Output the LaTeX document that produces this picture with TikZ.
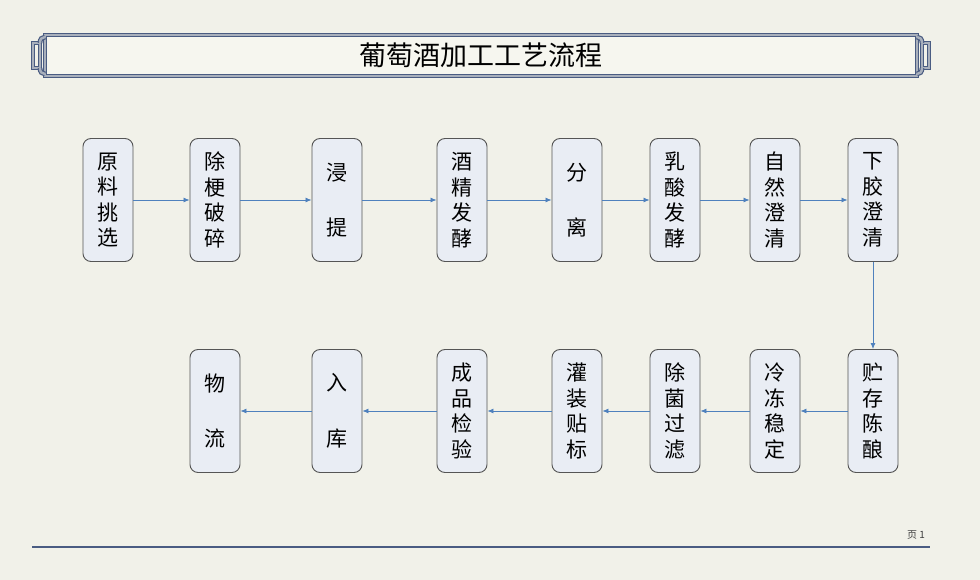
\documentclass[tikz,border=0pt]{standalone}
\usepackage{fontspec}
\setmainfont{Liberation Serif}
\newfontfamily\cjk{Noto Sans CJK SC}
\usetikzlibrary{arrows.meta}

\definecolor{bgcol}{HTML}{F1F1E9}
\definecolor{bannerfill}{HTML}{F6F6EF}
\definecolor{boxfill}{HTML}{E9EDF4}
\definecolor{boxline}{HTML}{555555}
\definecolor{arrowblue}{HTML}{4F81BD}
\definecolor{frameblue}{HTML}{4A5C82}
\definecolor{framegray}{HTML}{A9B0BC}

\begin{document}
\begin{tikzpicture}[x=1pt, y=-1pt,
  proc/.style={draw=boxline, line width=0.9pt, fill=boxfill, rounded corners=8pt, minimum width=50pt,
    minimum height=123pt, inner sep=0pt, align=center,
    font=\cjk\fontsize{21}{25.5}\selectfont},
  flow/.style={draw=arrowblue, line width=0.8pt, -{Latex[length=6pt,width=5pt]}},
  frame/.style={draw=frameblue, double=framegray, double distance=2.4pt, line width=1.2pt}]

  % page
  \fill[bgcol] (0,0) rectangle (980,580);
  \useasboundingbox (0,0) rectangle (980,580);

  % title banner
  \fill[bannerfill] (45,35) rectangle (917,76);
  \draw[frame] (45,35) rectangle (917,76);
  \draw[frame] (33,43) rectangle (40,68);
  \draw[frame] (45,37) .. controls (42,37) and (40,39) .. (40,43);
  \draw[frame] (45,74) .. controls (42,74) and (40,72) .. (40,68);
  \draw[frame] (922,43) rectangle (929,68);
  \draw[frame] (917,37) .. controls (920,37) and (922,39) .. (922,43);
  \draw[frame] (917,74) .. controls (920,74) and (922,72) .. (922,68);
  \node[font=\cjk\fontsize{27}{30}\selectfont] (title) at (481,55) {葡萄酒加工工艺流程};

  % first row
  \node[proc] (yuanliao) at (108,200) {原\\料\\挑\\选};
  \node[proc] (chugeng) at (215,200) {除\\梗\\破\\碎};
  \node[proc] (jinti) at (337,200) {浸\\[30pt]提};
  \node[proc] (jiujing) at (462,200) {酒\\精\\发\\酵};
  \node[proc] (fenli) at (577,200) {分\\[30pt]离};
  \node[proc] (rusuan) at (675,200) {乳\\酸\\发\\酵};
  \node[proc] (ziran) at (775,200) {自\\然\\澄\\清};
  \node[proc] (xiajiao) at (873,200) {下\\胶\\澄\\清};

  % second row
  \node[proc] (zhucun) at (873,411) {贮\\存\\陈\\酿};
  \node[proc] (lengdong) at (775,411) {冷\\冻\\稳\\定};
  \node[proc] (chujun) at (675,411) {除\\菌\\过\\滤};
  \node[proc] (guanzhuang) at (577,411) {灌\\装\\贴\\标};
  \node[proc] (chengpin) at (462,411) {成\\品\\检\\验};
  \node[proc] (ruku) at (337,411) {入\\[30pt]库};
  \node[proc] (wuliu) at (215,411) {物\\[30pt]流};

  \draw[flow] (yuanliao) -- (chugeng);
  \draw[flow] (chugeng) -- (jinti);
  \draw[flow] (jinti) -- (jiujing);
  \draw[flow] (jiujing) -- (fenli);
  \draw[flow] (fenli) -- (rusuan);
  \draw[flow] (rusuan) -- (ziran);
  \draw[flow] (ziran) -- (xiajiao);
  \draw[flow] (xiajiao) -- (zhucun);
  \draw[flow] (zhucun) -- (lengdong);
  \draw[flow] (lengdong) -- (chujun);
  \draw[flow] (chujun) -- (guanzhuang);
  \draw[flow] (guanzhuang) -- (chengpin);
  \draw[flow] (chengpin) -- (ruku);
  \draw[flow] (ruku) -- (wuliu);

  % footer
  \coordinate (footl) at (32,547);
  \coordinate (footr) at (930,547);
  \draw[frameblue, line width=2.5pt] (footl) -- (footr);
  \node[font=\cjk\fontsize{10}{11}\selectfont, text=black!75] (page) at (916,535) {页 1};
\end{tikzpicture}
\end{document}
